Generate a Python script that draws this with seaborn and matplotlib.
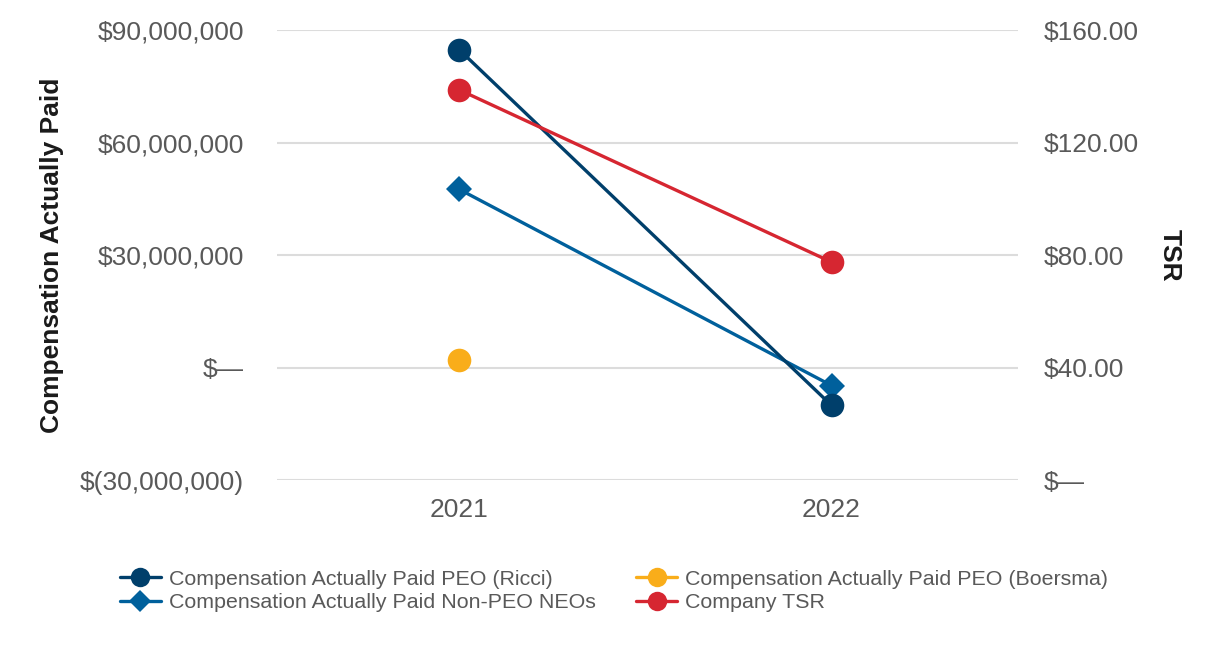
import matplotlib
matplotlib.use("Agg")
import matplotlib.pyplot as plt
import matplotlib.ticker as mticker
import pandas as pd
import seaborn as sns

years = [2021, 2022]
cap_ricci = [84.7e6, -10.1e6]
cap_boersma = [1.9e6]
cap_non_peo = [47.5e6, -4.8e6]
company_tsr = [138.7, 77.5]

labels = [
    "Compensation Actually Paid PEO (Ricci)",
    "Compensation Actually Paid PEO (Boersma)",
    "Compensation Actually Paid Non-PEO NEOs",
    "Company TSR",
]
colors = ["#003f6b", "#f9ad1a", "#00609c", "#d62631"]
grey = "#595959"

sns.set_theme(style="white")
plt.rcParams["font.family"] = ["Liberation Sans", "DejaVu Sans"]

df_ricci = pd.DataFrame({"year": years, "value": cap_ricci})
df_boersma = pd.DataFrame({"year": years[:1], "value": cap_boersma})
df_non_peo = pd.DataFrame({"year": years, "value": cap_non_peo})
df_tsr = pd.DataFrame({"year": years, "value": company_tsr})

fig = plt.figure(figsize=(12.26, 6.5), dpi=100)
ax = fig.add_axes([0.226, 0.2615, 0.604, 0.6923])
ax2 = ax.twinx()

line_kw = dict(linewidth=2.4, markeredgewidth=0)
sns.lineplot(data=df_non_peo, x="year", y="value", ax=ax, color=colors[2],
             marker="D", markersize=13, label=labels[2], legend=False, **line_kw)
sns.lineplot(data=df_ricci, x="year", y="value", ax=ax, color=colors[0],
             marker="o", markersize=17, label=labels[0], legend=False, **line_kw)
sns.lineplot(data=df_boersma, x="year", y="value", ax=ax, color=colors[1],
             marker="o", markersize=17, label=labels[1], legend=False, **line_kw)
sns.lineplot(data=df_tsr, x="year", y="value", ax=ax2, color=colors[3],
             marker="o", markersize=17, label=labels[3], legend=False, **line_kw)

ax.set_xlim(2020.51, 2022.5)
ax.set_xticks(years)
ax.set_xticklabels([str(y) for y in years])
ax.set_ylim(-30e6, 90e6)
ax.set_yticks([-30e6, 0, 30e6, 60e6, 90e6])
ax2.set_ylim(0, 160)
ax2.set_yticks([0, 40, 80, 120, 160])


def money_fmt(v, pos):
    if v == 0:
        return "$\u2014"
    if v < 0:
        return f"$({abs(v):,.0f})"
    return f"${v:,.0f}"


def tsr_fmt(v, pos):
    if v == 0:
        return "$\u2014"
    return f"${v:,.2f}"


ax.yaxis.set_major_formatter(mticker.FuncFormatter(money_fmt))
ax2.yaxis.set_major_formatter(mticker.FuncFormatter(tsr_fmt))

ax.grid(axis="y", color="#dcdcdc", linewidth=1.5)
ax.set_axisbelow(True)
for a in (ax, ax2):
    for s in a.spines.values():
        s.set_visible(False)
    a.tick_params(length=0, labelsize=19, labelcolor=grey)
ax.tick_params(axis="y", pad=24)
ax2.tick_params(axis="y", pad=19)
ax.tick_params(axis="x", pad=13)

ax.set_xlabel("")
ax.set_ylabel("Compensation Actually Paid", fontsize=19, fontweight="bold",
              color="#1a1a1a")
ax.yaxis.set_label_coords(-0.288, 0.5)
ax2.set_ylabel("TSR", fontsize=19, fontweight="bold", color="#1a1a1a",
               rotation=-90, va="bottom")
ax2.yaxis.set_label_coords(1.189, 0.5)

handles = {}
for a in (ax, ax2):
    for h, l in zip(*a.get_legend_handles_labels()):
        handles[l] = h
# column-wise fill: Ricci, Non-PEO | Boersma, TSR
order = [labels[0], labels[2], labels[1], labels[3]]
leg = fig.legend([handles[l] for l in order], order, loc="upper left",
                 bbox_to_anchor=(0.091, 0.137), ncol=2, frameon=False,
                 fontsize=15.4, handlelength=1.9, handletextpad=0.37,
                 columnspacing=1.9, labelspacing=0.22, borderaxespad=0)
for t in leg.get_texts():
    t.set_color(grey)
for h, l in zip(leg.legend_handles, order):
    h.set_markersize(11 if l == labels[2] else 14)

fig.savefig("out.png", dpi=100)
